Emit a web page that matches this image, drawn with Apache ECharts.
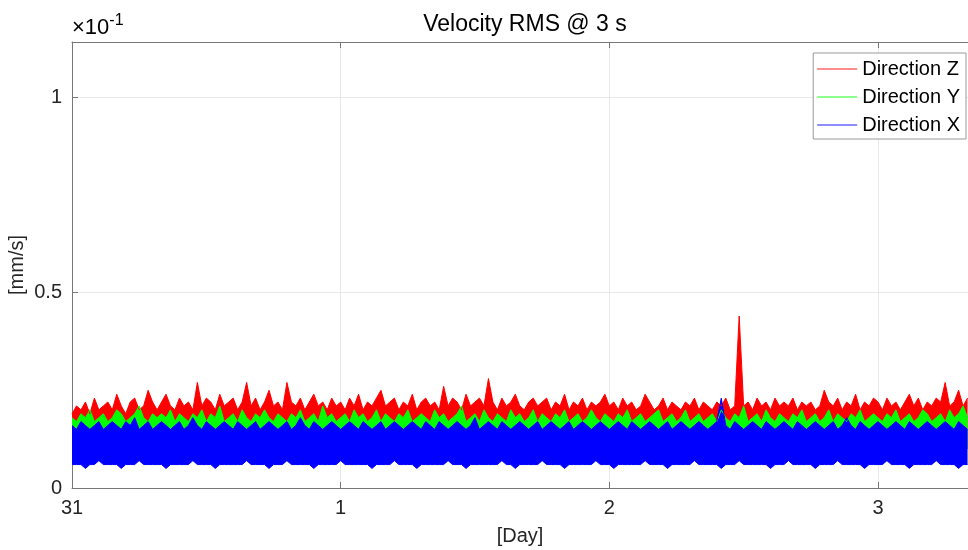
<!DOCTYPE html>
<html>
<head>
<meta charset="utf-8">
<title>Velocity RMS @ 3 s</title>
<script src="https://cdn.jsdelivr.net/npm/echarts@6/dist/echarts.min.js"></script>
<style>
  html, body { margin: 0; padding: 0; background: #fff; }
  #mainchart { width: 968px; height: 550px; }
</style>
</head>
<body>
<div id="mainchart"></div>
<script>
// one sample every 24 minutes, values in 1e-3 mm/s (axis shows x10^-1 mm/s)
var sampleStep = 1 / 60;

// upper envelope of Direction Z (red)
var zHigh = [
  19,21,20,22,19,23,20,21,22,20,24,21,19,22,23,20,21,25,22,20,
  22,24,21,20,23,21,22,20,27,21,23,22,20,24,21,22,23,20,22,27,
  21,23,20,22,25,21,22,20,27,22,21,23,20,22,24,21,22,20,23,21,
  22,20,23,21,24,20,22,21,23,25,21,22,23,20,22,21,24,20,22,23,
  21,22,20,26,21,23,22,20,24,21,22,23,21,28,22,20,23,21,22,24,
  21,20,22,23,21,22,23,20,22,21,24,20,22,21,23,20,22,21,22,24,
  21,22,20,23,21,22,20,21,24,22,20,21,23,20,22,21,20,22,21,23,
  20,22,21,20,22,21,23,20,21,44,21,22,20,23,21,22,20,23,21,22,
  21,23,20,22,21,22,20,21,25,22,21,23,20,22,21,24,20,22,21,23,
  22,20,23,21,22,20,22,24,21,23,20,22,21,23,22,27,21,22,25,21,23
];

// upper envelope of Direction Y (green)
var yHigh = [
  18,17,19,18,20,17,18,19,17,18,20,19,17,18,19,21,18,17,19,18,
  19,18,20,17,19,18,17,19,18,20,17,19,18,21,17,18,19,17,20,18,
  17,19,18,20,18,17,19,18,17,19,18,20,17,18,19,17,21,18,19,17,
  18,19,17,20,18,19,17,18,20,17,19,18,17,19,18,20,17,18,19,18,
  17,20,18,19,17,18,19,21,17,18,19,17,20,18,17,19,18,17,20,18,
  19,17,18,20,17,19,18,17,19,18,20,17,18,19,17,18,20,18,17,19,
  18,17,19,18,20,17,18,19,17,18,19,20,17,18,19,17,18,20,17,18,
  19,17,18,19,17,20,18,17,19,18,21,17,18,19,17,20,18,17,19,18,
  17,19,18,20,17,18,19,17,18,20,17,19,18,17,19,18,20,17,18,19,
  18,17,19,18,20,17,18,19,17,18,20,19,17,18,19,17,20,18,19,21,18
];

// upper and lower envelope of Direction X (blue)
var xHigh = [
  16,15,17,16,15,16,17,15,16,17,16,15,17,16,18,15,16,17,15,16,
  17,16,15,16,17,15,16,18,16,15,17,16,15,16,17,16,15,17,16,15,
  16,17,15,16,17,16,15,16,17,15,16,18,16,15,17,16,15,16,17,16,
  15,16,17,16,15,17,16,15,16,17,15,16,17,16,15,16,17,16,15,17,
  16,15,17,16,15,16,17,16,15,16,18,15,16,17,16,15,17,16,15,16,
  17,16,15,16,17,15,16,17,16,15,16,17,15,16,17,16,15,16,17,16,
  15,16,17,16,15,17,16,15,16,17,16,15,16,17,15,16,17,16,15,16,
  17,16,15,16,17,23,16,15,17,16,15,16,17,16,15,17,16,15,16,17,
  16,15,17,16,15,16,17,16,15,16,17,15,16,18,16,15,17,16,15,16,
  17,16,15,16,17,16,15,17,16,15,16,17,16,15,16,17,16,15,17,16,15
];
var xLow = [
  6,6,6,5,6,6,7,6,6,6,6,5,6,6,6,7,6,6,6,6,
  6,5,6,6,6,6,6,7,6,6,6,6,5,6,6,6,6,6,6,7,
  6,6,6,6,5,6,6,6,7,6,6,6,6,6,5,6,6,6,6,6,
  7,6,6,6,6,6,6,5,6,6,6,6,7,6,6,6,6,5,6,6,
  6,6,6,6,7,6,6,6,5,6,6,6,6,6,6,6,7,6,6,5,
  6,6,6,6,6,7,6,6,6,6,5,6,6,6,6,6,6,7,6,6,
  6,5,6,6,6,6,6,6,7,6,6,6,6,5,6,6,6,6,6,7,
  6,6,6,6,6,5,6,6,6,7,6,6,6,6,6,6,5,6,6,6,
  7,6,6,6,6,6,5,6,6,6,6,7,6,6,6,6,6,5,6,6,
  6,6,7,6,6,6,6,5,6,6,6,6,6,7,6,6,6,6,5,6,6
];

var seriesNames = ['Direction Z', 'Direction Y', 'Direction X'];
var seriesColors = ['#ff0000', '#00ff00', '#0000ff'];
var dayLabels = ['31', '1', '2', '3'];
var yTicks = [0, 50, 100];

function toPoints(arr) {
    return arr.map(function(v, i) { return [i * sampleStep, v]; });
}

function band(name, color, arr) {
    return {
        name: name,
        type: 'line',
        data: toPoints(arr),
        symbol: 'none',
        silent: true,
        lineStyle: { color: color, width: 1 },
        itemStyle: { color: color },
        areaStyle: { color: color, opacity: 1, origin: 10 }
    };
}

var myChart = echarts.init(document.getElementById('mainchart'));

var font = "'Liberation Sans', Arial, sans-serif";

var option = {
    animation: false,
    title: {
        text: 'Velocity RMS @ 3 s',
        left: 520,
        top: 8,
        textAlign: 'center',
        textStyle: { fontFamily: font, fontSize: 23, fontWeight: 'normal', color: '#000' }
    },
    legend: {
        data: seriesNames,
        orient: 'vertical',
        right: 2,
        top: 53,
        icon: 'rect',
        itemWidth: 40,
        itemHeight: 1.5,
        itemGap: 8,
        padding: [6, 6, 4, 4],
        itemStyle: { opacity: 0.6 },
        backgroundColor: '#fff',
        borderColor: '#999',
        borderWidth: 1,
        borderRadius: 0,
        textStyle: { fontFamily: font, fontSize: 20, color: '#000' }
    },
    grid: { left: 72, right: 0, top: 42, bottom: 62, outerBoundsMode: 'none', containLabel: false },
    xAxis: [{
        type: 'value',
        min: 0,
        max: 3.335,
        interval: 1,
        name: '[Day]',
        nameLocation: 'middle',
        nameGap: 38,
        nameMoveOverlap: false,
        nameTextStyle: { fontFamily: font, fontSize: 20, color: '#262626' },
        axisLine: { lineStyle: { color: '#777' } },
        axisTick: { inside: true, length: 6, lineStyle: { color: '#777' } },
        axisLabel: {
            fontFamily: font, fontSize: 20, color: '#262626', margin: 10,
            showMaxLabel: false,
            formatter: function(v) {
                var k = Math.round(v);
                return Math.abs(v - k) < 1e-6 ? dayLabels[k] : '';
            }
        },
        splitLine: { show: true, lineStyle: { color: '#e8e8e8' } }
    }, {
        type: 'value',
        position: 'top',
        min: 0,
        max: 3.335,
        interval: 1,
        axisLine: { show: true, lineStyle: { color: '#777' } },
        axisTick: { inside: true, length: 6, lineStyle: { color: '#777' } },
        axisLabel: { show: false },
        splitLine: { show: false }
    }],
    yAxis: {
        type: 'value',
        min: 0,
        max: 114.1,
        interval: 50,
        name: '[mm/s]',
        nameLocation: 'middle',
        nameGap: 45,
        nameMoveOverlap: false,
        nameTextStyle: { fontFamily: font, fontSize: 20, color: '#262626' },
        axisLine: { show: true, lineStyle: { color: '#777' } },
        axisTick: { show: true, inside: true, length: 6, lineStyle: { color: '#777' } },
        axisLabel: {
            fontFamily: font, fontSize: 20, color: '#262626', margin: 10,
            showMaxLabel: false,
            formatter: function(v) {
                return yTicks.indexOf(v) >= 0 ? String(v / 100) : '';
            }
        },
        splitLine: { show: true, lineStyle: { color: '#e8e8e8' } }
    },
    graphic: [{
        type: 'text',
        left: 72,
        top: 13,
        style: {
            text: '{a|×10}{b|-1}',
            rich: {
                a: { fontFamily: font, fontSize: 22, color: '#262626', verticalAlign: 'bottom' },
                b: { fontFamily: font, fontSize: 16, color: '#262626', verticalAlign: 'top', padding: [0, 0, 10, 0] }
            }
        }
    }],
    series: [
        band(seriesNames[0], seriesColors[0], zHigh),
        band(seriesNames[1], seriesColors[1], yHigh),
        band(seriesNames[2], seriesColors[2], xLow),
        band(seriesNames[2], seriesColors[2], xHigh)
    ]
};

myChart.setOption(option);
</script>
</body>
</html>
